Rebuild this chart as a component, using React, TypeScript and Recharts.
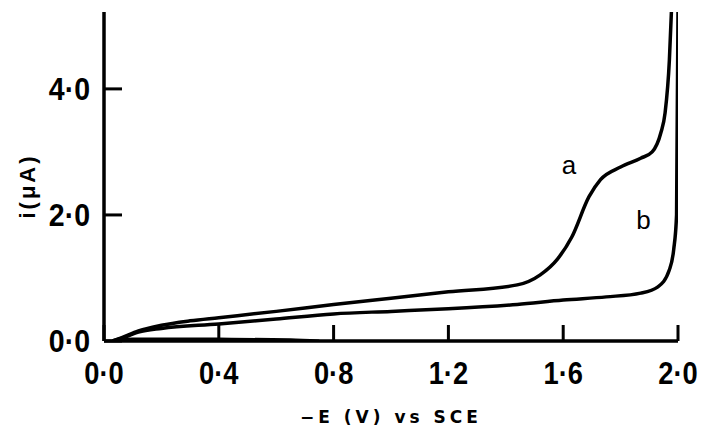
import { LineChart, Line, XAxis, YAxis, ReferenceDot } from "recharts";

// -E (V) vs SCE, i (uA)
const xTicks = [0, 0.4, 0.8, 1.2, 1.6, 2.0];
const yTicks = [0, 2, 4];

const curveA = [
  { e: 0.03, i: 0 },
  { e: 0.06, i: 0.05 },
  { e: 0.12, i: 0.16 },
  { e: 0.2, i: 0.25 },
  { e: 0.3, i: 0.32 },
  { e: 0.4, i: 0.37 },
  { e: 0.6, i: 0.47 },
  { e: 0.8, i: 0.58 },
  { e: 1.0, i: 0.68 },
  { e: 1.2, i: 0.78 },
  { e: 1.44, i: 0.89 },
  { e: 1.52, i: 1.05 },
  { e: 1.58, i: 1.3 },
  { e: 1.63, i: 1.65 },
  { e: 1.69, i: 2.29 },
  { e: 1.73, i: 2.56 },
  { e: 1.8, i: 2.76 },
  { e: 1.87, i: 2.9 },
  { e: 1.91, i: 3.0 },
  { e: 1.94, i: 3.3 },
  { e: 1.955, i: 3.62 },
  { e: 1.97, i: 4.46 },
  { e: 1.977, i: 5.22 },
];

const curveB = [
  { e: 0.03, i: 0 },
  { e: 0.06, i: 0.04 },
  { e: 0.12, i: 0.14 },
  { e: 0.2, i: 0.2 },
  { e: 0.4, i: 0.27 },
  { e: 0.6, i: 0.35 },
  { e: 0.8, i: 0.43 },
  { e: 1.0, i: 0.47 },
  { e: 1.2, i: 0.51 },
  { e: 1.44, i: 0.58 },
  { e: 1.6, i: 0.65 },
  { e: 1.75, i: 0.7 },
  { e: 1.87, i: 0.76 },
  { e: 1.93, i: 0.86 },
  { e: 1.97, i: 1.13 },
  { e: 1.985, i: 1.45 },
  { e: 1.995, i: 2.0 },
  { e: 2.0, i: 5.22 },
];

// return sweep hugging the baseline
const curveReturn = [
  { e: 0.05, i: 0.01 },
  { e: 0.1, i: 0.03 },
  { e: 0.4, i: 0.03 },
  { e: 0.65, i: 0.02 },
  { e: 0.75, i: 0 },
];

const curveLabels = [
  { name: "a", e: 1.62, i: 2.8 },
  { name: "b", e: 1.88, i: 1.93 },
];

const fmt = (v: number) => v.toFixed(1).replace(".", "·");

const tickFont = {
  fontFamily: "'Liberation Sans', sans-serif",
  fontWeight: 700,
  fontSize: 31,
  fill: "#000",
};

function XTick({ x, y, payload }: any) {
  return (
    <g>
      <line x1={x} x2={x} y1={y} y2={y - 16} stroke="#000" strokeWidth={3} />
      <text
        transform={`translate(${x},${y + 43}) scale(0.88,1)`}
        textAnchor="middle"
        {...tickFont}
      >
        {fmt(payload.value)}
      </text>
    </g>
  );
}

function YTick({ x, y, payload }: any) {
  return (
    <g>
      <line x1={x} x2={x + 18} y1={y} y2={y} stroke="#000" strokeWidth={3} />
      <text
        transform={`translate(${x - 14},${y + 11}) scale(0.92,1)`}
        textAnchor="end"
        {...tickFont}
      >
        {fmt(payload.value)}
      </text>
    </g>
  );
}

export default function App() {
  return (
    <div
      style={{
        position: "absolute",
        left: 0,
        top: 0,
        width: 706,
        height: 431,
        background: "#fff",
      }}
    >
      <LineChart
        width={706}
        height={431}
        margin={{ top: 12, right: 28, bottom: 0, left: 0 }}
      >
        <XAxis
          dataKey="e"
          type="number"
          domain={[0, 2]}
          ticks={xTicks}
          allowDataOverflow
          height={90}
          tickSize={0}
          tickMargin={0}
          tickLine={false}
          axisLine={{ stroke: "#000", strokeWidth: 3.5 }}
          tick={<XTick />}
        />
        <YAxis
          dataKey="i"
          type="number"
          domain={[0, 5.22]}
          ticks={yTicks}
          allowDataOverflow
          width={104}
          tickSize={0}
          tickMargin={0}
          tickLine={false}
          axisLine={{ stroke: "#000", strokeWidth: 3.5 }}
          tick={<YTick />}
        />
        <Line
          data={curveReturn}
          dataKey="i"
          type="monotone"
          stroke="#000"
          strokeWidth={3}
          dot={false}
          isAnimationActive={false}
        />
        <Line
          data={curveB}
          dataKey="i"
          type="monotone"
          stroke="#000"
          strokeWidth={3.5}
          dot={false}
          isAnimationActive={false}
        />
        <Line
          data={curveA}
          dataKey="i"
          type="monotone"
          stroke="#000"
          strokeWidth={3.5}
          dot={false}
          isAnimationActive={false}
        />
        {curveLabels.map((l) => (
          <ReferenceDot
            key={l.name}
            x={l.e}
            y={l.i}
            r={1}
            fill="none"
            stroke="none"
            label={{
              value: l.name,
              position: "center",
              fill: "#000",
              fontSize: 26,
              fontFamily: "'Liberation Sans', Arial, sans-serif",
            }}
          />
        ))}
      </LineChart>

      {/* axis titles */}
      <div
        style={{
          position: "absolute",
          left: 28,
          top: 186,
          transform: "translate(-50%, -50%) rotate(-90deg)",
          fontFamily: "'Liberation Sans', sans-serif",
          fontWeight: 700,
          fontSize: 22,
          letterSpacing: 3,
          whiteSpace: "nowrap",
          lineHeight: 1,
        }}
      >
        i(μA)
      </div>
      <div
        style={{
          position: "absolute",
          left: 391,
          top: 417,
          transform: "translate(-50%, -50%)",
          fontFamily: "'DejaVu Sans', sans-serif",
          fontWeight: 700,
          fontSize: 17,
          letterSpacing: 4,
          whiteSpace: "nowrap",
          lineHeight: 1,
        }}
      >
        −E (V) vs SCE
      </div>
    </div>
  );
}
